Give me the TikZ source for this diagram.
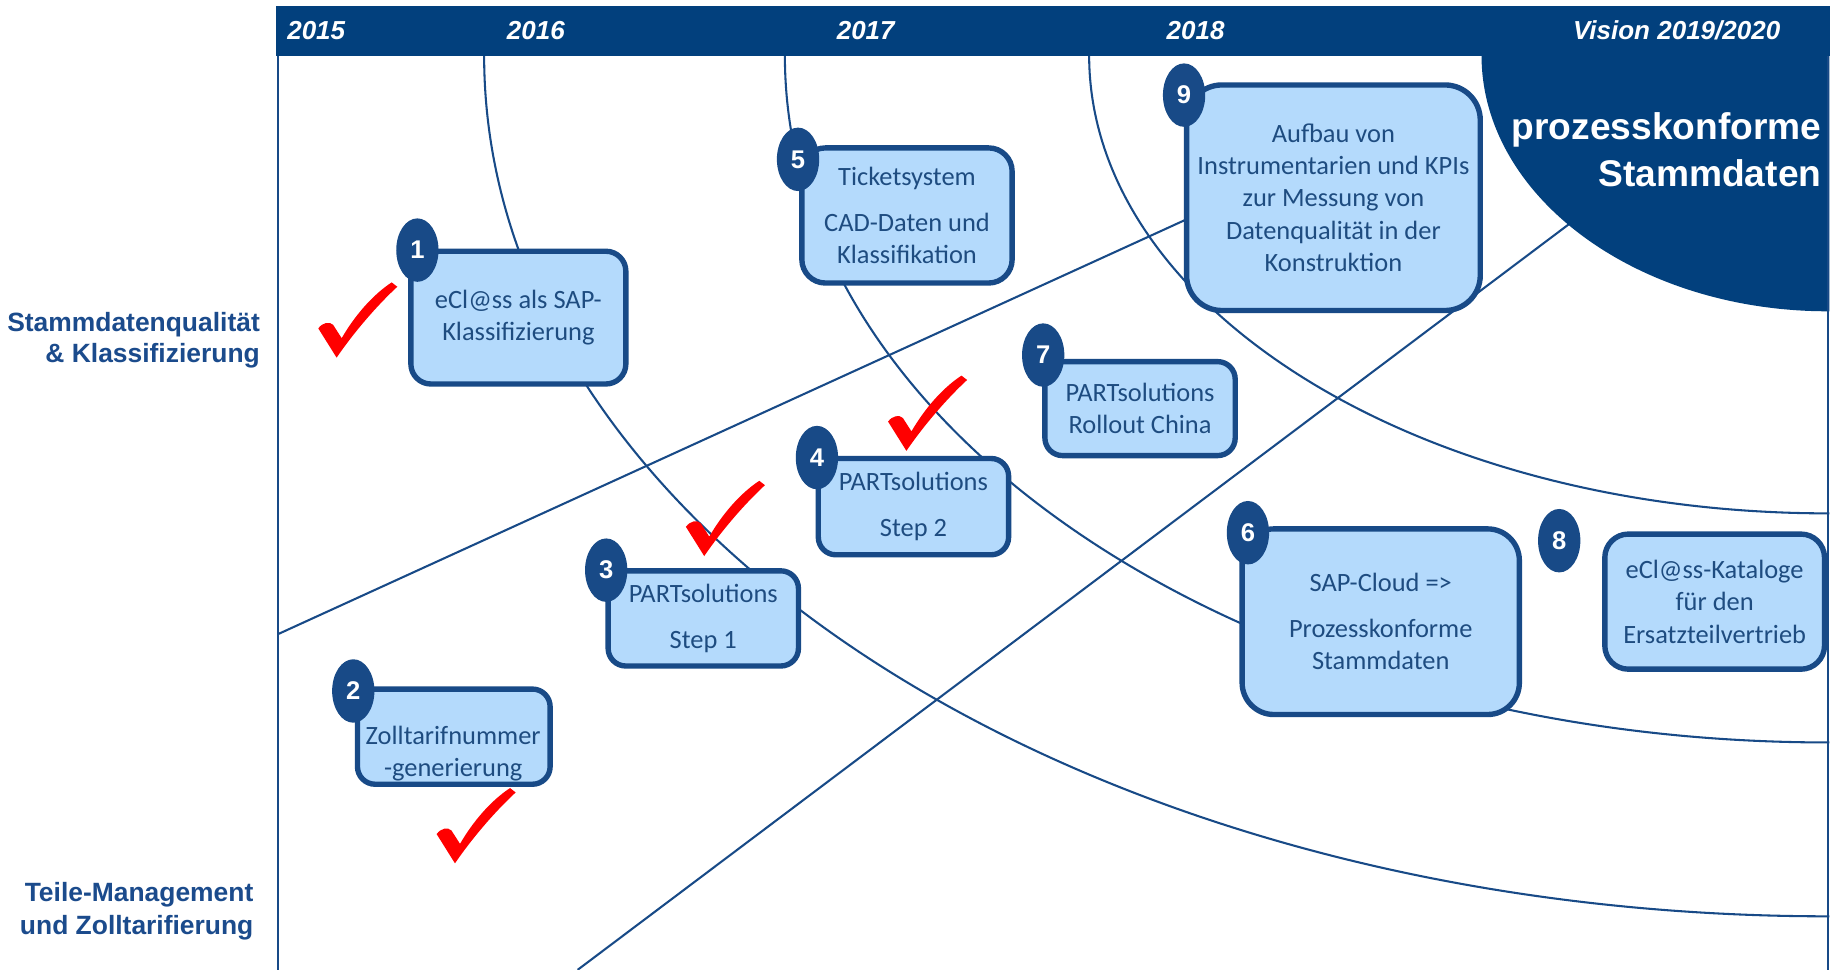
\documentclass[tikz,border=0pt]{standalone}
\usepackage{fontspec}
\setmainfont{Carlito}
\newfontfamily\arialf{Liberation Sans}
\usetikzlibrary{shapes.geometric}
\definecolor{navy}{RGB}{2,64,125}
\definecolor{boxborder}{RGB}{24,74,135}
\definecolor{boxfill}{RGB}{180,218,252}
\definecolor{textblue}{RGB}{30,76,128}
\definecolor{labelblue}{RGB}{27,75,140}
\definecolor{linecol}{RGB}{24,74,135}
\definecolor{checkred}{RGB}{255,0,0}
\tikzset{
  okmark/.pic={\fill[checkred] (0,0) -- (-15.6,-24.9) .. controls (-12,-30) and (-6,-31) .. (-3,-28) -- (4.3,-16.6) .. controls (15,-35) and (30,-53) .. (46.9,-64.1) -- (51.7,-60.4) .. controls (35,-45) and (15,-22) .. cycle;},
  box/.style={draw=boxborder, line width=1.3pt, fill=boxfill, rounded corners=#1, align=center, text=textblue, font=\fontsize{6.4}{7.85}\selectfont, inner sep=0pt},
  box/.default=0.17cm,
  boxtext/.style={align=center, text=textblue, font=\fontsize{6.4}{7.85}\selectfont, inner sep=0pt},
  badge/.style={ellipse, fill=boxborder, minimum width=0.36cm, minimum height=0.54cm, inner sep=0pt, text=white, font=\arialf\bfseries\fontsize{6.2}{7}\selectfont},
  thinline/.style={draw=linecol, line width=0.5pt},
  year/.style={anchor=base west, inner sep=0pt, text=white, font=\arialf\bfseries\itshape\fontsize{6.3}{7}\selectfont},
  sidelabel/.style={anchor=base east, inner sep=0pt, text=labelblue, font=\arialf\bfseries\fontsize{6.4}{7.6}\selectfont},
  visionlabel/.style={anchor=base east, inner sep=0pt, text=white, font=\arialf\bfseries\fontsize{9}{10}\selectfont}
}
\begin{document}
\begin{tikzpicture}[x=0.01cm,y=-0.01cm]
\useasboundingbox (0,0) rectangle (1568,826);
\fill[white] (0,0) rectangle (1568,826);

% arcs, lines, dark vision shape
\begin{scope}
\clip (237,47) rectangle (1558,826);
\draw[thinline] (1557,47) ellipse [x radius=11.44cm, y radius=7.33cm];
\draw[thinline] (1557,47) ellipse [x radius=8.88cm, y radius=5.85cm];
\draw[thinline] (1557,47) ellipse [x radius=6.29cm, y radius=3.90cm];
\coordinate (l1a) at (237,540);
\coordinate (l1b) at (1135,130);
\coordinate (l2a) at (492,826);
\coordinate (l2b) at (1400,143);
\draw[thinline] (l1a) -- (l1b);
\draw[thinline] (l2a) -- (l2b);
\fill[navy] (1557,47) ellipse [x radius=2.95cm, y radius=2.18cm];
\end{scope}

% frame lines
\draw[thinline] (237,47) -- (237,826);
\draw[thinline] (1557,47) -- (1557,826);

% header bar
\fill[navy] (235,5) rectangle (1559,48);
\node[year] (y15) at (244,34) {2015};
\node[year] (y16) at (431,34) {2016};
\node[year] (y17) at (712,34) {2017};
\node[year] (y18) at (993,34) {2018};
\node[year, anchor=base east] (yvis) at (1517,34) {Vision 2019/2020};

% vision text
\node[visionlabel] (v1) at (1552,119) {prozesskonforme};
\node[visionlabel] (v2) at (1552,158.5) {Stammdaten};

% side labels
\node[sidelabel] (s1) at (222,282.5) {Stammdatenqualität};
\node[sidelabel] (s2) at (222,309) {\& Klassifizierung};
\node[sidelabel] (s3) at (216.5,768) {Teile-Management};
\node[sidelabel] (s4) at (216.5,795.5) {und Zolltarifierung};

% boxes
\node[box, minimum width=1.83cm, minimum height=1.13cm] (b1) at (441.5,270.5) {eCl@ss als SAP-\\Klassifizierung};
\node[box=0.2cm, minimum width=1.79cm, minimum height=1.15cm] (b5) at (772.5,183.5) {Ticketsystem\\[3.2pt]CAD-Daten und\\Klassifikation};
\node[box=0.3cm, minimum width=2.50cm, minimum height=1.92cm] (b9) at (1135.7,168.4) {Aufbau von\\Instrumentarien und KPIs\\zur Messung von\\Datenqualität in der\\Konstruktion};
\node[box=0.15cm, minimum width=1.62cm, minimum height=0.80cm] (b7) at (971,348) {PARTsolutions\\Rollout China};
\node[box=0.15cm, minimum width=1.62cm, minimum height=0.82cm] (b4) at (778,431.5) {PARTsolutions\\[3.2pt]Step 2};
\node[box=0.15cm, minimum width=1.62cm, minimum height=0.81cm] (b3) at (599,526.7) {PARTsolutions\\[3.2pt]Step 1};
\node[box=0.27cm, minimum width=2.36cm, minimum height=1.58cm] (b6) at (1176,529.5) {SAP-Cloud =>\\[3.2pt]Prozesskonforme\\Stammdaten};
\node[box=0.2cm, minimum width=1.87cm, minimum height=1.15cm] (b8) at (1460.4,512.4) {eCl@ss-Kataloge\\für den\\Ersatzteilvertrieb};
\node[box=0.15cm, minimum width=1.64cm, minimum height=0.81cm] (b2) at (386.5,627.4) {};
\node[boxtext] (b2t) at (386,642) {Zolltarifnummer\\-generierung};

% badges
\node[badge] (n1) at (355.5,213) {1};
\node[badge] (n2) at (300.9,588.5) {2};
\node[badge] (n3) at (516.3,485.6) {3};
\node[badge] (n4) at (695.8,389.7) {4};
\node[badge] (n5) at (679.7,135.7) {5};
\node[badge] (n6) at (1062.9,453.7) {6};
\node[badge] (n7) at (888.5,302.4) {7};
\node[badge] (n8) at (1328,460.5) {8};
\node[badge] (n9) at (1008.5,81) {9};

% check marks
\pic at (286.7,304.6) {okmark};
\pic at (387.5,735.3) {okmark};
\pic at (599.8,473.6) {okmark};
\pic at (772,384) {okmark};
\end{tikzpicture}
\end{document}
